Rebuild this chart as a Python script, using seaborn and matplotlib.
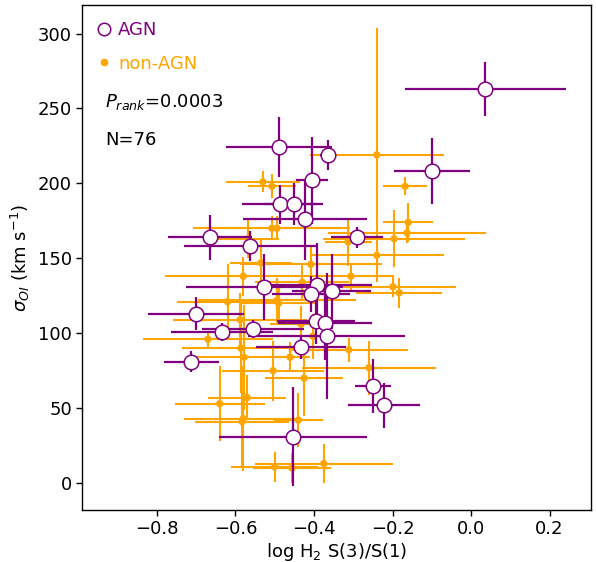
import numpy as np
import pandas as pd
import seaborn as sns
import matplotlib
matplotlib.use("Agg")
import matplotlib.pyplot as plt
from matplotlib.lines import Line2D

# AGN sample
agn_x = [0.036, -0.099, -0.290, -0.490, -0.364, -0.405, -0.487, -0.451, -0.423, -0.665,
         -0.563, -0.527, -0.393, -0.408, -0.355, -0.700, -0.634, -0.555, -0.395, -0.372,
         -0.367, -0.433, -0.713, -0.250, -0.222, -0.453]
agn_y = [263, 208, 164, 224, 219, 202, 186, 186, 176, 164,
         158, 131, 132, 126, 128, 113, 101, 103, 108, 107,
         98, 91, 81, 65, 52, 31]
agn_xerr = [0.205, 0.097, 0.066, 0.135, 0.02, 0.04, 0.095, 0.075, 0.158, 0.107,
            0.168, 0.20, 0.14, 0.10, 0.10, 0.123, 0.13, 0.13, 0.10, 0.12,
            0.20, 0.115, 0.07, 0.045, 0.092, 0.188]
agn_yerr = [18, 22, 7, 20, 10, 29, 13, 14, 27, 15,
            10, 22, 28, 12, 25, 11, 6, 6, 15, 25,
            42, 8, 7, 18, 15, 33]

# non-AGN sample
non_x = [-0.240, -0.168, -0.160, -0.163, -0.196, -0.313, -0.240, -0.408, -0.306, -0.199,
         -0.183, -0.403, -0.311, -0.260, -0.425, -0.375, -0.580, -0.430, -0.620, -0.494,
         -0.588, -0.433, -0.670, -0.586, -0.578, -0.461, -0.504, -0.570, -0.640, -0.580,
         -0.583, -0.440, -0.500, -0.456, -0.530, -0.507, -0.507, -0.494, -0.568, -0.535,
         -0.490]
non_y = [219, 198, 174, 167, 163, 161, 152, 146, 138, 131,
         127, 98, 89, 77, 70, 13, 138, 134, 121, 122,
         109, 106, 96, 90, 84, 84, 75, 57, 53, 43,
         41, 42, 11, 10, 201, 198, 170, 170, 163, 147,
         120]
non_xerr = [0.17, 0.057, 0.064, 0.20, 0.18, 0.06, 0.17, 0.18, 0.11, 0.16,
            0.11, 0.10, 0.15, 0.17, 0.10, 0.175, 0.20, 0.12, 0.13, 0.20,
            0.17, 0.08, 0.165, 0.15, 0.12, 0.05, 0.13, 0.10, 0.115, 0.15,
            0.12, 0.063, 0.11, 0.10, 0.095, 0.06, 0.20, 0.15, 0.08, 0.08,
            0.10]
non_yerr = [85, 6, 13, 7, 19, 16, 10, 12, 9, 7,
            10, 15, 8, 18, 25, 13, 13, 12, 25, 15,
            18, 12, 5, 30, 35, 10, 20, 15, 25, 35,
            30, 18, 10, 10, 7, 8, 8, 8, 13, 15,
            12]

agn = pd.DataFrame({"x": agn_x, "y": agn_y, "xerr": agn_xerr, "yerr": agn_yerr})
non = pd.DataFrame({"x": non_x, "y": non_y, "xerr": non_xerr, "yerr": non_yerr})

sns.set_style("ticks")
plt.rcParams["font.family"] = ["DejaVu Sans"]
plt.rcParams["text.color"] = "black"
plt.rcParams["axes.labelcolor"] = "black"

fig = plt.figure(figsize=(5.96, 5.62), dpi=100)
ax = fig.add_axes([0.138, 0.0925, 0.854, 0.8985])

ax.errorbar(non["x"], non["y"], xerr=non["xerr"], yerr=non["yerr"], fmt="none",
            ecolor="orange", elinewidth=1.5, capsize=0, zorder=2)
sns.scatterplot(data=non, x="x", y="y", color="orange", s=28, edgecolor="none",
                ax=ax, zorder=3, legend=False)
ax.errorbar(agn["x"], agn["y"], xerr=agn["xerr"], yerr=agn["yerr"], fmt="none",
            ecolor="purple", elinewidth=1.6, capsize=0, zorder=4)
sns.scatterplot(data=agn, x="x", y="y", color="white", edgecolor="purple", linewidth=1.1,
                s=110, ax=ax, zorder=5, legend=False)

ax.set_xlim(-0.99, 0.306)
ax.set_ylim(-18, 319)
ax.set_xticks([-0.8, -0.6, -0.4, -0.2, 0.0, 0.2])
ax.set_yticks([0, 50, 100, 150, 200, 250, 300])
ax.tick_params(labelsize=13, direction="out", length=4, width=1, colors="black")
for sp in ax.spines.values():
    sp.set_color("black")
    sp.set_linewidth(1)

ax.set_xlabel("log H$_2$ S(3)/S(1)", fontsize=13, labelpad=2)
ax.set_ylabel(r"$\sigma_{OI}$ (km s$^{-1}$)", fontsize=13, labelpad=4)

handles = [
    Line2D([], [], ls="none", marker="o", mfc="white", mec="purple", ms=9, mew=1.1),
    Line2D([], [], ls="none", marker="o", color="orange", ms=4.5),
]
leg = ax.legend(handles, ["AGN", "non-AGN"], loc="upper left", frameon=False,
                fontsize=13, handlelength=0.6, handletextpad=0.5, labelspacing=0.85,
                borderaxespad=0.5)
for txt, c in zip(leg.get_texts(), ["purple", "orange"]):
    txt.set_color(c)

ax.text(0.045, 0.808, r"$P_{rank}$=0.0003", transform=ax.transAxes, fontsize=13, va="center")
ax.text(0.045, 0.733, "N=76", transform=ax.transAxes, fontsize=13, va="center")

fig.savefig("out.png", dpi=100)
